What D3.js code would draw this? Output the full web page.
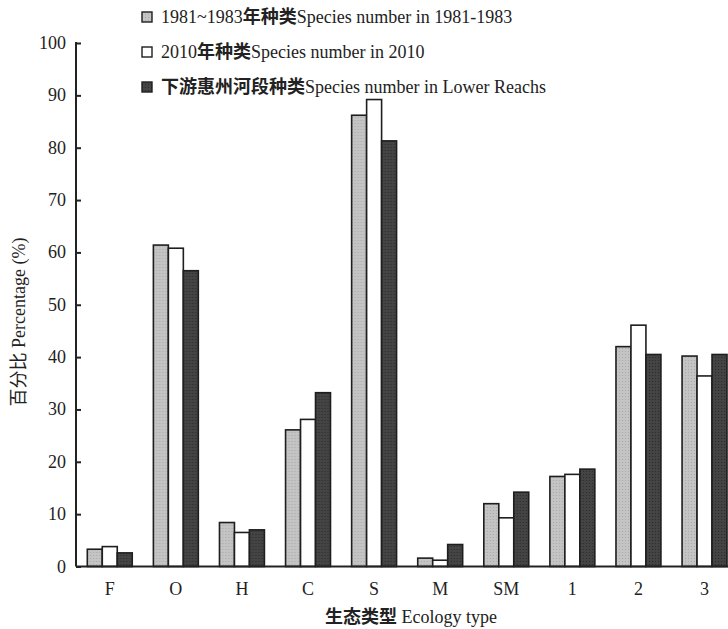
<!DOCTYPE html>
<html>
<head>
<meta charset="utf-8">
<script src="https://cdn.jsdelivr.net/npm/d3@7"></script>
<style>
  body { margin: 0; background: #fff; }
  svg { display: block; font-family: "Liberation Serif", "Noto Sans CJK SC", serif; }
</style>
</head>
<body>
<div id="chart"></div>
<script>
// Ecology types on the x axis
const categories = ["F", "O", "H", "C", "S", "M", "SM", "1", "2", "3"];

// Percentage values per series
const values1981 = [3.3, 61.4, 8.4, 26.1, 86.2, 1.6, 12.0, 17.2, 42.0, 40.2];
const values2010 = [3.8, 60.8, 6.5, 28.1, 89.2, 1.2, 9.3, 17.6, 46.1, 36.4];
const valuesLower = [2.6, 56.5, 7.0, 33.2, 81.3, 4.2, 14.2, 18.6, 40.5, 40.5];

// Legend labels: year prefix, Chinese part, English part
const seriesYear = ["1981~1983", "2010", ""];
const seriesZh = ["年种类", "年种类", "下游惠州河段种类"];
const seriesEn = [
  "Species number in 1981-1983",
  "Species number in 2010",
  "Species number in Lower Reachs",
];
const seriesKeys = ["a", "b", "c"];

const yTicks = [0, 10, 20, 30, 40, 50, 60, 70, 80, 90, 100];

const width = 728;
const height = 629;
const axisX = 76;
const baseY = 566.5;
const topY = 43;

const svg = d3
  .select("#chart")
  .append("svg")
  .attr("width", width)
  .attr("height", height);

// Light texture for the shaded bars
const defs = svg.append("defs");
function addPattern(id, bg, dot) {
  const p = defs
    .append("pattern")
    .attr("id", id)
    .attr("width", 3)
    .attr("height", 3)
    .attr("patternUnits", "userSpaceOnUse");
  p.append("rect").attr("width", 3).attr("height", 3).attr("fill", bg);
  p.append("rect").attr("width", 1).attr("height", 1).attr("fill", dot);
}
addPattern("pGray", "#c4c4c4", "#a8a8a8");
addPattern("pDark", "#444444", "#2a2a2a");
const fillUrls = ["url(#pGray)", "#ffffff", "url(#pDark)"];

const rows = categories.map((c, i) => ({
  cat: c,
  a: values1981[i],
  b: values2010[i],
  c: valuesLower[i],
}));

const x0 = d3
  .scaleBand()
  .domain(categories)
  .range([axisX, 738.3])
  .paddingInner(0.32)
  .paddingOuter(0.171);

const x1 = d3
  .scaleBand()
  .domain(seriesKeys)
  .range([0, x0.bandwidth()]);

const y = d3.scaleLinear().domain([0, 100]).range([baseY, topY]);

// Bars
const groups = svg
  .selectAll("g.group")
  .data(rows)
  .enter()
  .append("g")
  .attr("class", "group")
  .attr("transform", (d) => `translate(${x0(d.cat)},0)`);

groups
  .selectAll("rect")
  .data((d) => seriesKeys.map((k, i) => ({ key: k, value: d[k], i })))
  .enter()
  .append("rect")
  .attr("x", (d) => x1(d.key))
  .attr("y", (d) => y(d.value))
  .attr("width", x1.bandwidth())
  .attr("height", (d) => baseY - y(d.value))
  .attr("fill", (d) => fillUrls[d.i])
  .attr("stroke", "#1e1e1e")
  .attr("stroke-width", 1.6);

// Y axis: ticks pointing inward
const yAxis = d3
  .axisRight(y)
  .tickValues(yTicks)
  .tickSize(5)
  .tickFormat("");

const yg = svg
  .append("g")
  .attr("transform", `translate(${axisX},0)`)
  .call(yAxis);
yg.select(".domain").remove();
yg.selectAll(".tick line").attr("stroke", "#222").attr("stroke-width", 2);

svg
  .append("line")
  .attr("x1", axisX)
  .attr("x2", axisX)
  .attr("y1", topY - 1)
  .attr("y2", baseY)
  .attr("stroke", "#222")
  .attr("stroke-width", 2);

svg
  .selectAll("text.ytick")
  .data(yTicks)
  .enter()
  .append("text")
  .attr("class", "ytick")
  .attr("x", 66)
  .attr("y", (d) => y(d) + 6)
  .attr("text-anchor", "end")
  .attr("font-size", 18)
  .attr("fill", "#222")
  .text((d) => d);

// X axis line
svg
  .append("line")
  .attr("x1", axisX)
  .attr("x2", width)
  .attr("y1", baseY)
  .attr("y2", baseY)
  .attr("stroke", "#222")
  .attr("stroke-width", 2);

svg
  .selectAll("text.xcat")
  .data(categories)
  .enter()
  .append("text")
  .attr("class", "xcat")
  .attr("x", (d) => x0(d) + x0.bandwidth() / 2)
  .attr("y", 595)
  .attr("text-anchor", "middle")
  .attr("font-size", 18)
  .attr("fill", "#222")
  .text((d) => d);

// Axis titles
const xTitle = svg
  .append("text")
  .attr("x", 411)
  .attr("y", 623)
  .attr("text-anchor", "middle")
  .attr("font-size", 18)
  .attr("fill", "#222");
xTitle.append("tspan").attr("font-weight", "bold").text("生态类型");
xTitle.append("tspan").text("  Ecology type");

svg
  .append("text")
  .attr("transform", "translate(25,322) rotate(-90)")
  .attr("text-anchor", "middle")
  .attr("font-size", 18)
  .attr("fill", "#222")
  .text("百分比  Percentage (%)");

// Legend
const legend = svg
  .selectAll("g.legend")
  .data(seriesZh)
  .enter()
  .append("g")
  .attr("class", "legend")
  .attr("transform", (d, i) => `translate(142,${17 + i * 35})`);

legend
  .append("rect")
  .attr("x", 0)
  .attr("y", -5)
  .attr("width", 10)
  .attr("height", 10)
  .attr("fill", (d, i) => fillUrls[i])
  .attr("stroke", "#1e1e1e")
  .attr("stroke-width", 1.4);

const legendText = legend
  .append("text")
  .attr("x", 19)
  .attr("y", 6)
  .attr("font-size", 18)
  .attr("fill", "#222");
legendText.append("tspan").text((d, i) => seriesYear[i]);
legendText
  .append("tspan")
  .attr("font-weight", "bold")
  .text((d) => d);
legendText.append("tspan").text((d, i) => seriesEn[i]);
</script>
</body>
</html>
